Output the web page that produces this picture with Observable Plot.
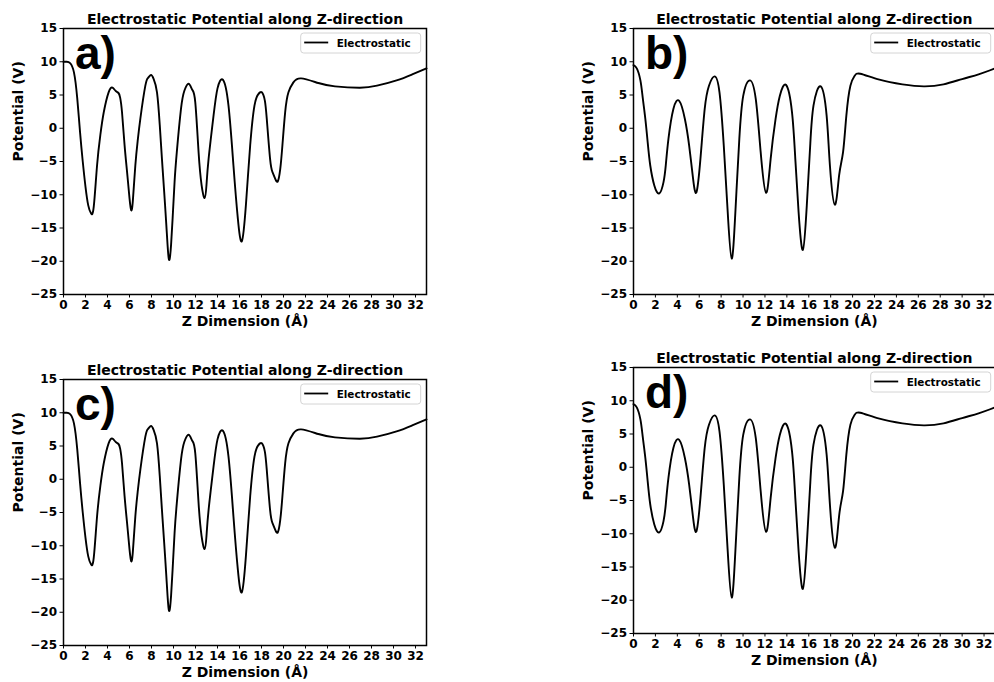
<!DOCTYPE html>
<html><head><meta charset="utf-8">
<script src="https://cdn.jsdelivr.net/npm/d3@7"></script>
<script src="https://cdn.jsdelivr.net/npm/@observablehq/plot@0.6"></script>
<style>
body{margin:0;background:#fff;}
#wrap{position:relative;width:994px;height:682px;overflow:hidden;background:#fff;}
.panel{position:absolute;width:440px;height:340px;}
.panel svg{max-width:none !important;}
</style></head><body><div id="wrap"></div>
<script>
// Panel a) and c): z (Å) and potential (V)
const zA = [0,0.3,0.6,0.95,1.25,1.5,1.75,2.0,2.25,2.5,2.75,3.05,3.35,3.66,4.1,4.45,4.75,5.0,5.15,5.32,5.55,5.78,6.0,6.15,6.3,6.53,6.75,6.99,7.44,7.7,7.96,8.2,8.5,8.75,8.95,9.15,9.35,9.5,9.63,9.78,9.95,10.1,10.3,10.68,10.98,11.37,11.7,11.98,12.28,12.55,12.83,13.0,13.19,13.64,14.0,14.49,15.0,15.45,15.85,16.21,16.58,16.97,17.36,17.7,18.03,18.3,18.48,18.78,19.0,19.25,19.48,19.7,19.9,20.15,20.45,20.9,21.6,23.17,24.68,26.95,28.5,30.28,31.7,33];
const vA = [10,10,9.8,8.4,4.5,-0.5,-5,-8.8,-11.6,-12.8,-11.8,-5.6,-1,2.4,5.4,6.1,5.6,5.3,4.6,2.4,-2.5,-6.6,-10.5,-12.3,-11,-5.6,-1.8,1.5,6.4,7.6,8.0,7.4,5.4,0.5,-4.6,-9.5,-14.6,-18.5,-19.8,-17.5,-12.6,-8,-3.6,2.9,5.6,6.7,5.8,3.9,-3.6,-8.5,-10.5,-8.5,-4.6,1.9,6.0,7.3,3.4,-5.6,-13.6,-17.0,-11.6,-2.6,3.4,5.1,5.4,4.2,1.4,-4.6,-6.6,-7.6,-8.0,-6.2,-2.6,2.4,5.4,6.9,7.5,6.8,6.3,6.1,6.4,7.2,8.1,9.0];
const vC = vA.slice();
// Panel b) and d)
const zB = [0,0.3,0.63,0.85,1.08,1.3,1.53,1.9,2.35,2.74,2.95,3.19,3.64,4.18,4.69,5.08,5.44,5.75,6.11,6.5,6.89,7.4,7.85,8.24,8.6,8.96,9.3,9.66,10.02,10.62,11.16,11.61,12.1,12.52,12.97,13.36,13.93,14.47,14.77,15.07,15.46,15.82,16.13,16.43,17.09,17.63,17.93,18.38,18.77,19.13,19.43,19.8,20.19,20.7,22.45,24.55,26.5,28.3,30.0,31.5,33];
const vB = [9.5,9.0,7.2,4.5,1.4,-2.2,-5.6,-8.6,-9.8,-8.1,-5.5,-1.6,2.9,4.1,1.4,-2.6,-7.6,-9.6,-4.6,2.9,6.4,7.8,5.4,-2.6,-12.6,-19.6,-12.6,-1.6,4.9,7.2,4.4,-3.6,-9.7,-4.6,1.4,4.9,6.5,2.4,-4.6,-12.6,-18.3,-11.6,-2.6,3.4,6.3,1.9,-5.6,-11.5,-7.1,-3.6,1.9,6.4,7.9,8.2,7.3,6.6,6.3,6.6,7.4,8.1,9.0];
const vD = [9.5,9.0,7.2,4.5,1.4,-2.2,-5.6,-8.6,-9.8,-8.1,-5.5,-1.6,2.9,4.1,1.4,-2.6,-7.6,-9.6,-4.6,2.9,6.4,7.8,5.4,-2.6,-12.6,-19.6,-12.6,-1.6,4.9,7.2,4.4,-3.6,-9.7,-4.6,1.4,4.9,6.5,2.4,-4.6,-12.6,-18.3,-11.6,-2.6,3.4,6.3,1.9,-5.6,-12.1,-7.3,-3.6,1.9,6.4,7.9,8.2,7.3,6.6,6.3,6.6,7.4,8.1,9.0];

const xTicks = [0,2,4,6,8,10,12,14,16,18,20,22,24,26,28,30,32];
const yTicks = [-25,-20,-15,-10,-5,0,5,10,15];
const panelLabels = ["a)","b)","c)","d)"];
const titleText = "Electrostatic Potential along Z-direction";
const xLabel = "Z Dimension (Å)";
const yLabel = "Potential (V)";
const legendText = "Electrostatic";

const fmt = d => d < 0 ? "\u2212" + Math.abs(d) : String(d);

function panel(zs, vs, label, left, top, frameW) {
  const data = zs.map((z, i) => ({z, v: vs[i]}));
  const W = 440, H = 340, mL = 63, mT = 28, mB = 46;
  const svg = Plot.plot({
    width: W, height: H,
    marginLeft: mL, marginRight: W - mL - frameW, marginTop: mT, marginBottom: mB,
    style: {fontFamily: "DejaVu Sans", fontWeight: "bold", fontSize: "12px", color: "#000", background: "transparent", overflow: "visible", maxWidth: "none"},
    x: {domain: [0, 33]},
    y: {domain: [-25, 15]},
    marks: [
      Plot.axisX({ticks: xTicks, tickSize: 3.5, tickPadding: 2, tickFormat: fmt, label: null, fontSize: 12, fontWeight: "bold", stroke: "#000"}),
      Plot.axisY({ticks: yTicks, tickSize: 3.5, tickPadding: 3, tickFormat: fmt, label: null, fontSize: 12, fontWeight: "bold", stroke: "#000"}),
      Plot.line(data, {x: "z", y: "v", curve: "natural", stroke: "#000", strokeWidth: 1.9}),
      Plot.frame({stroke: "#000", strokeWidth: 1.5}),
      Plot.text([titleText], {frameAnchor: "top", dy: -5, lineAnchor: "bottom", fontSize: 14, fontWeight: "bold", fill: "#000"}),
      Plot.text([xLabel], {frameAnchor: "bottom", dy: 31, lineAnchor: "bottom", fontSize: 14, fontWeight: "bold", fill: "#000"}),
      Plot.text([yLabel], {frameAnchor: "left", dx: -41, rotate: -90, lineAnchor: "bottom", fontSize: 14, fontWeight: "bold", fill: "#000"})
    ]
  });
  svg.style.maxWidth = "none";
  const s = d3.select(svg);
  // panel letter
  s.append("text").attr("x", 75).attr("y", 69).attr("text-anchor", "start")
    .attr("font-family", "'Liberation Sans', Arial, sans-serif").attr("font-weight", "bold")
    .attr("font-size", 46).attr("fill", "#000").text(label);
  // legend
  const lx = 300.7, ly = 33;
  const g = s.append("g");
  g.append("rect").attr("x", lx).attr("y", ly).attr("width", 120).attr("height", 20).attr("rx", 3)
    .attr("fill", "#fff").attr("fill-opacity", 0.85).attr("stroke", "#d4d4d4").attr("stroke-width", 1);
  g.append("line").attr("x1", lx + 3.5).attr("x2", lx + 27.5).attr("y1", ly + 9.5).attr("y2", ly + 9.5)
    .attr("stroke", "#000").attr("stroke-width", 1.8);
  g.append("text").attr("x", lx + 36).attr("y", ly + 13.5).attr("text-anchor", "start")
    .attr("font-family", "DejaVu Sans").attr("font-weight", "bold").attr("font-size", 10.4)
    .attr("fill", "#000").text(legendText);
  const div = document.createElement("div");
  div.className = "panel";
  div.style.left = left + "px";
  div.style.top = top + "px";
  div.appendChild(svg);
  document.getElementById("wrap").appendChild(div);
}

panel(zA, vA, panelLabels[0], 0, 0, 363);
panel(zB, vB, panelLabels[1], 570, 0, 361.5);
panel(zA, vC, panelLabels[2], 0, 351, 363);
panel(zB, vD, panelLabels[3], 570, 339, 361.5);
</script></body></html>
